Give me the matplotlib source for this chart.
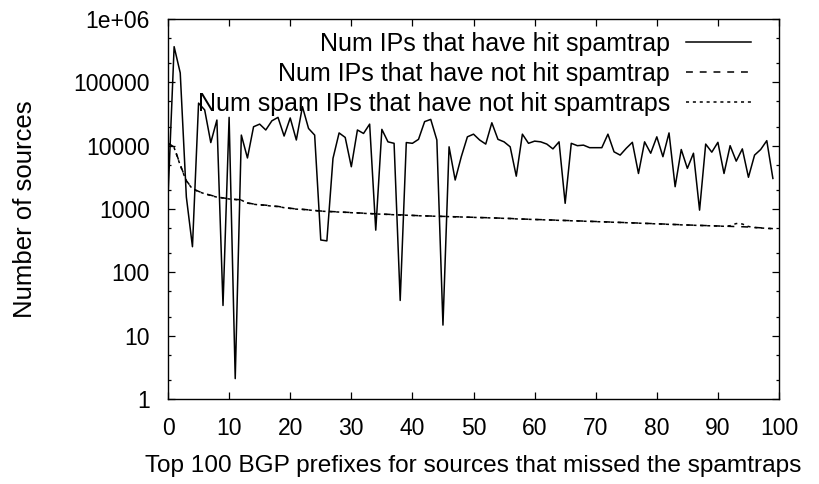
import numpy as np
import matplotlib
matplotlib.use("Agg")
import matplotlib.pyplot as plt
from matplotlib.ticker import LogLocator, NullFormatter

plt.rcParams['font.family'] = ['Liberation Sans', 'DejaVu Sans']

# rang des prefixes BGP (0..99)
prefix_rank = list(range(100))

# Num IPs that have hit spamtrap
hit_spamtrap = [
    1560, 366000, 141000, 1550, 254, 47000, 36700, 11200, 25400, 30,
    28000, 2.1, 14700, 6400, 19900, 21900, 17700, 24700, 28000, 14200,
    27400, 12300, 41300, 18700, 14700, 324, 314, 6300, 15900, 13500,
    4650, 17700, 15600, 21900, 464, 18100, 11500, 10900, 36, 11200,
    10900, 12600, 24000, 26000, 12300, 14.7, 9600, 2870, 6700, 13800,
    15200, 12300, 10600, 23000, 12600, 11500, 9600, 3300, 15200, 10900,
    11800, 11500, 10600, 8900, 11500, 1230, 10900, 10000, 10200, 9300,
    9300, 9300, 15200, 8000, 7100, 9100, 11300, 3640, 11500, 7600,
    13800, 6700, 15900, 2250, 8700, 4380, 7600, 960, 10600, 7900,
    11300, 3640, 10000, 5700, 8900, 3170, 7100, 8700, 12000, 3040,
]

# Num IPs that have not hit spamtrap
not_hit_spamtrap = [
    11000, 9500, 5000, 2800, 2100, 1900, 1750, 1650, 1550, 1500,
    1450, 1420, 1400, 1250, 1200, 1170, 1150, 1120, 1100, 1060,
    1030, 1000, 990, 970, 950, 930, 920, 910, 900, 890,
    880, 870, 860, 850, 840, 830, 825, 815, 810, 800,
    795, 785, 780, 775, 770, 765, 760, 755, 750, 745,
    740, 735, 730, 725, 720, 715, 710, 700, 695, 690,
    685, 680, 675, 670, 665, 660, 655, 650, 645, 640,
    635, 630, 625, 620, 615, 610, 605, 600, 595, 590,
    585, 580, 575, 570, 565, 560, 556, 552, 548, 544,
    540, 536, 532, 528, 525, 520, 512, 505, 498, 490,
]

# Num spam IPs that have not hit spamtraps
spam_not_hit = [
    10800, 9300, 4900, 2750, 2080, 1880, 1740, 1630, 1540, 1490,
    1440, 1410, 1380, 1240, 1190, 1160, 1140, 1110, 1090, 1050,
    1020, 995, 985, 965, 945, 925, 915, 905, 895, 885,
    875, 865, 855, 845, 835, 828, 820, 812, 805, 798,
    790, 782, 778, 772, 768, 762, 758, 752, 748, 742,
    738, 732, 728, 722, 718, 712, 706, 698, 692, 688,
    682, 678, 672, 668, 662, 658, 652, 648, 642, 638,
    632, 628, 622, 618, 612, 608, 602, 598, 592, 588,
    582, 578, 572, 568, 562, 558, 554, 550, 546, 542,
    538, 534, 545, 590, 580, 530, 510, 502, 495, 488,
]

fig = plt.figure(figsize=(8.2, 4.84), dpi=100)
ax = fig.add_axes([0.2049, 0.1756, 0.7451, 0.7851])

ax.plot(prefix_rank, hit_spamtrap, color='black', lw=1.1, label='Num IPs that have hit spamtrap')
ax.plot(prefix_rank, not_hit_spamtrap, color='black', lw=1.1, dashes=(4.5, 4.5),
        label='Num IPs that have not hit spamtrap')
ax.plot(prefix_rank, spam_not_hit, color='black', lw=1.1, dashes=(2, 2.5),
        label='Num spam IPs that have not hit spamtraps')

ax.set_yscale('log')
ax.set_xlim(0, 100)
ax.set_ylim(1, 1e6)
ax.set_xticks(range(0, 101, 10))
ax.set_yticks([1, 10, 100, 1000, 10000, 100000, 1e6])
ax.set_yticklabels(['1', '10', '100', '1000', '10000', '100000', '1e+06'])
ax.yaxis.set_minor_locator(LogLocator(base=10, subs=(2.0, 5.0), numticks=20))
ax.yaxis.set_minor_formatter(NullFormatter())

ax.tick_params(which='both', direction='in', top=True, right=True, labelsize=16.5, width=0.9)
ax.tick_params(which='major', length=5, pad=13)
ax.tick_params(which='minor', length=2.5)
for s in ax.spines.values():
    s.set_linewidth(1.0)

ax.set_xlabel('Top 100 BGP prefixes for sources that missed the spamtraps', fontsize=17.6, labelpad=11)
ax.set_ylabel('Number of sources', fontsize=18.5, labelpad=26)

ax.legend(loc='upper right', frameon=False, markerfirst=False, fontsize=18,
          handlelength=2.6, handletextpad=0.65, labelspacing=0.25,
          borderaxespad=0.1, bbox_to_anchor=(0.975, 1.0))

fig.savefig('out.png', dpi=100)
